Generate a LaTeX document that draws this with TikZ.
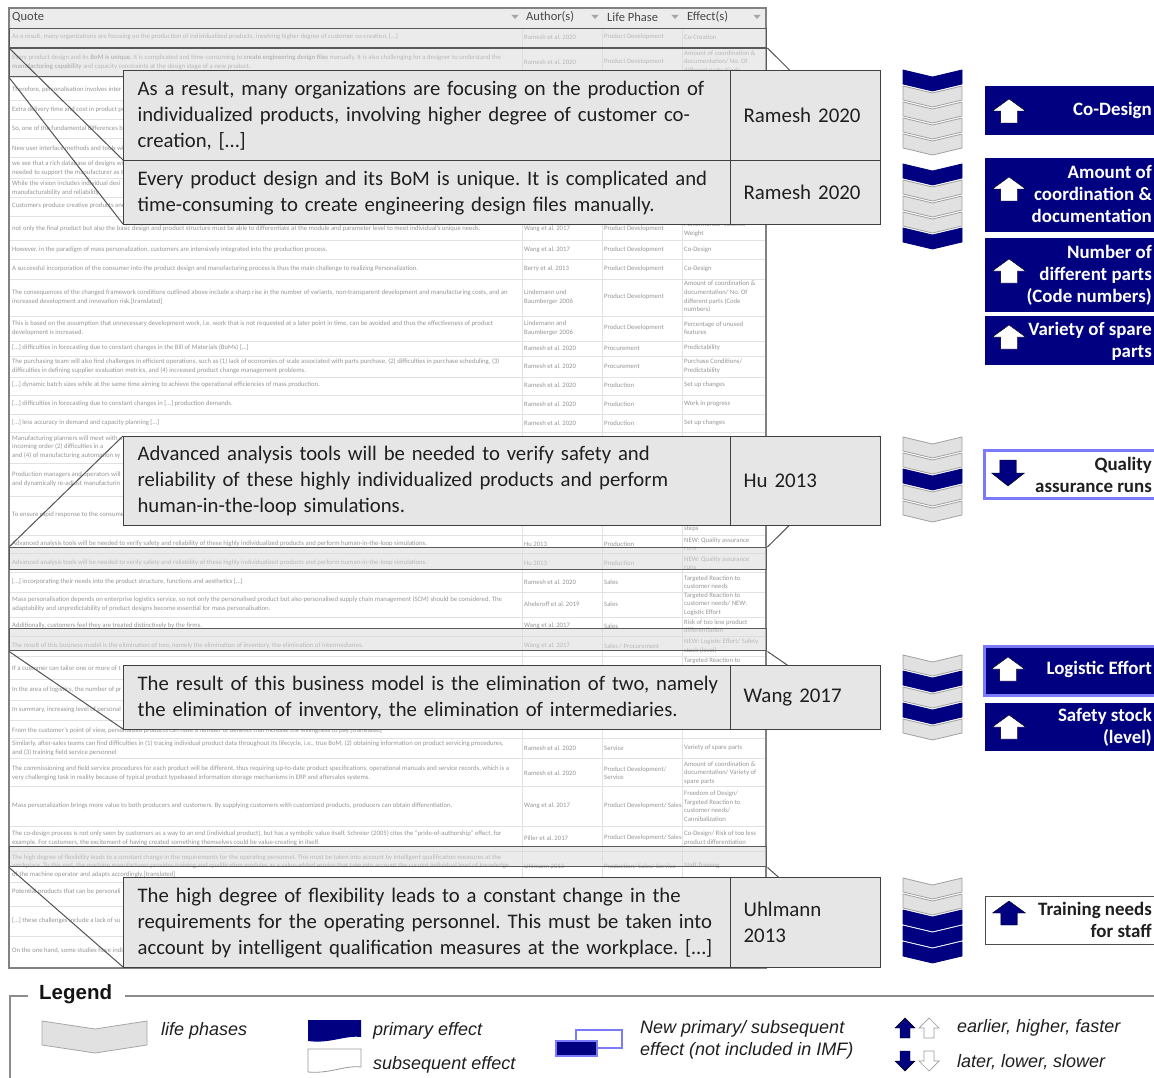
\documentclass[tikz,border=0pt]{standalone}
\usepackage{fontspec}
\setmainfont{Carlito}
\newfontfamily\arialf{Liberation Sans}
\frenchspacing
\definecolor{navy}{RGB}{0,0,128}
\definecolor{lblue}{RGB}{122,122,250}
\definecolor{cofill}{RGB}{230,230,230}
\definecolor{coline}{RGB}{64,64,64}
\definecolor{chgray}{RGB}{225,225,225}
\definecolor{chline}{RGB}{160,160,160}
\definecolor{ttext}{RGB}{150,150,150}
\definecolor{tline}{RGB}{226,226,226}
\definecolor{hdrfill}{RGB}{236,236,236}
\definecolor{tframe}{RGB}{130,130,130}
\definecolor{bandline}{RGB}{90,90,90}

% one table row: name, y, quote, author(s), life phase, effect(s)
\newcommand\trow[6]{%
  \node[tcell] (q#1) at (12,#2) {#3};
  \node[tcell] (a#1) at (524,#2) {#4};
  \node[tcell] (p#1) at (604,#2) {#5};
  \node[tcell] (f#1) at (684,#2) {#6};}
% one chevron: x, top y, style
\newcommand\chev[3]{\draw[#3] (#1,#2) -- ++(29.5,7) -- ++(29.5,-7) -- ++(0,14) -- ++(-29.5,7) -- ++(-29.5,-7) -- cycle;}
% stack of five life-phase chevrons
\newcommand\chevstack[6]{%
  \chev{903}{#1}{#2}\chev{903}{#1+16}{#3}\chev{903}{#1+32}{#4}\chev{903}{#1+48}{#5}\chev{903}{#1+64}{#6}}
% block arrow: style, centre x, tip y, half head width, height (negative = pointing down)
\newcommand\uparr[5]{\draw[#1] (#2,#3) -- ++(#4,0.5*#5) -- ++(-0.5*#4,0) -- ++(0,0.5*#5) -- ++(-#4,0) -- ++(0,-0.5*#5) -- ++(-0.5*#4,0) -- cycle;}

\begin{document}
\begin{tikzpicture}[x=1pt,y=-1pt,
  tcell/.style={anchor=west,inner sep=0pt,align=left,font=\fontsize{6.7}{8.6}\selectfont,text=ttext},
  hdr/.style={anchor=west,inner sep=0pt,font=\fontsize{12.5}{14}\selectfont,text=black!72},
  band/.style={draw=bandline,line width=1.4pt,fill=black!15,fill opacity=0.5,draw opacity=1,anchor=north west,minimum width=757pt,inner sep=0pt},
  zoomline/.style={draw=black!68,line width=1pt},
  callq/.style={draw=coline,line width=1.2pt,fill=cofill,anchor=north west,text width=600pt,inner xsep=14pt,align=left,font=\fontsize{20.7}{26}\selectfont,text=black!88},
  calla/.style={draw=coline,line width=1.2pt,fill=cofill,anchor=north west,minimum width=150pt,text width=124pt,inner xsep=13pt,align=left,font=\fontsize{20.9}{26}\selectfont,text=black!88},
  grayph/.style={fill=chgray,draw=chline,line width=0.8pt},
  navyph/.style={fill=navy,draw=navy,line width=0.8pt},
  effbox/.style={anchor=north west,minimum width=171pt,inner sep=0pt},
  effn/.style={effbox,fill=navy,draw=navy},
  effnew/.style={effbox,fill=navy,draw=lblue,line width=3pt},
  effw/.style={effbox,fill=white,draw=lblue,line width=3pt},
  effg/.style={effbox,fill=white,draw=black!70,line width=1pt},
  efftxt/.style={anchor=east,inner sep=0pt,align=right,font=\bfseries\fontsize{18.9}{22}\selectfont},
  legtxt/.style={anchor=west,inner sep=0pt,align=left,font=\arialf\itshape\fontsize{18}{22}\selectfont,text=black!88},
  legline/.style={draw=black!45,line width=1.3pt}]

\useasboundingbox[fill=white] (0,0) rectangle (1154,1078);

% ---------------- spreadsheet of quotes ----------------
\fill[hdrfill] (9,8) rectangle (766,28);
\foreach \yy in {47,77,100,119,138,157,178,197,216,240,259,279,316,341,356,377,395,414,432,463,496,535,553,572,592,617,636,656,679,700,720,738,758,786,826,851,882,906,936}
  \draw[tline] (9,\yy) -- (766,\yy);
\foreach \xx in {522,602,682}
  \draw[tline] (\xx,28) -- (\xx,968);

\node[hdr] (hq) at (12,17) {Quote};
\node[hdr] (ha) at (526,17) {Author(s)};
\node[hdr] (hp) at (607,17) {Life Phase};
\node[hdr] (hf) at (687,17) {Effect(s)};
\foreach \xx in {515,595,675,757}
  \fill[black!35] (\xx-3.5,15) -- (\xx+3.5,15) -- (\xx,19) -- cycle;

\trow{r1}{37}{As a result, many organizations are focusing on the production of individualized products, involving higher degree of customer co-creation, […]}{Ramesh et al. 2020}{Product Development}{Co-Creation}
\trow{r2}{62}{Every product design and its \textbf{BoM is unique}. It is complicated and time-consuming to \textbf{create engineering design files} manually. It is also challenging for a designer to understand the\\\textbf{manufacturing capability} and capacity constraints at the design stage of a new product.}{Ramesh et al. 2020}{Product Development}{Amount of coordination \&\\documentation/ No. Of\\different parts (Code}
\trow{r3}{90}{Therefore, personalisation involves inter}{}{}{}
\trow{r4}{110}{Extra delivery time and cost in product pe}{}{}{}
\trow{r5}{129}{So, one of the fundamental differences be}{}{}{}
\trow{r6}{148}{New user interface methods and tools wi}{}{}{}
\trow{r7}{168}{we see that a rich database of designs wi\\needed to support the manufacturer as th}{}{}{}
\trow{r8}{188}{While the vision includes individual desi\\manufacturability and reliability.}{}{}{}
\trow{r9}{206}{Customers produce creative products and}{}{}{}
\trow{r10}{229}{not only the final product but also the basic design and product structure must be able to differentiate at the module and parameter level to meet individual's unique needs.}{Wang et al. 2017}{Product Development}{Performance/ Volume/\\Weight}
\trow{r11}{250}{However, in the paradigm of mass personalization, customers are intensively integrated into the production process.}{Wang et al. 2017}{Product Development}{Co-Design}
\trow{r12}{269}{A successful incorporation of the consumer into the product design and manufacturing process is thus the main challenge to realizing Personalization.}{Berry et al. 2013}{Product Development}{Co-Design}
\trow{r13}{297}{The consequences of the changed framework conditions outlined above include a sharp rise in the number of variants, non-transparent development and manufacturing costs, and an\\increased development and innovation risk.[translated]}{Lindemann und\\Baumberger 2006}{Product Development}{Amount of coordination \&\\documentation/ No. Of\\different parts (Code\\numbers)}
\trow{r14}{328}{This is based on the assumption that unnecessary development work, i.e. work that is not requested at a later point in time, can be avoided and thus the effectiveness of product\\development is increased.}{Lindemann and\\Baumberger 2006}{Product Development}{Percentage of unused\\features}
\trow{r15}{348}{[…] difficulties in forecasting due to constant changes in the Bill of Materials (BoMs) […]}{Ramesh et al. 2020}{Procurement}{Predictability}
\trow{r16}{366}{The purchasing team will also find challenges in efficient operations, such as (1) lack of economies of scale associated with parts purchase, (2) difficulties in purchase scheduling, (3)\\difficulties in defining supplier evaluation metrics, and (4) increased product change management problems.}{Ramesh et al. 2020}{Procurement}{Purchase Conditions/\\Predictability}
\trow{r17}{385}{[…] dynamic batch sizes while at the same time aiming to achieve the operational efficiencies of mass production.}{Ramesh et al. 2020}{Production}{Set up changes}
\trow{r18}{404}{[…] difficulties in forecasting due to constant changes in […] production demands.}{Ramesh et al. 2020}{Production}{Work in progress}
\trow{r19}{423}{[…] less accuracy in demand and capacity planning […]}{Ramesh et al. 2020}{Production}{Set up changes}
\trow{r20}{447}{Manufacturing planners will meet with a\\incoming order (2) difficulties in a\\and (4) of manufacturing automation sy}{}{}{}
\trow{r21}{479}{Production managers and operators will\\and dynamically re-adjust manufacturin}{}{}{}
\trow{r22}{515}{To ensure rapid response to the consume}{}{}{}
\node[tcell] (f22) at (684,529) {steps};
\trow{r23}{544}{Advanced analysis tools will be needed to verify safety and reliability of these highly individualized products and perform human-in-the-loop simulations.}{Hu 2013}{Production}{NEW: Quality assurance\\runs}
\trow{r24}{563}{Advanced analysis tools will be needed to verify safety and reliability of these highly individualized products and perform human-in-the-loop simulations.}{Hu 2013}{Production}{NEW: Quality assurance\\runs}
\trow{r25}{582}{[…] incorporating their needs into the product structure, functions and aesthetics […]}{Ramesh et al. 2020}{Sales}{Targeted Reaction to\\customer needs}
\trow{r26}{604}{Mass personalisation depends on enterprise logistics service, so not only the personalised product but also personalised supply chain management (SCM) should be considered. The\\adaptability and unpredictability of product designs become essential for mass personalisation.}{Aheleroff et al. 2019}{Sales}{Targeted Reaction to\\customer needs/ NEW:\\Logistic Effort}
\trow{r27}{626}{Additionally, customers feel they are treated distinctively by the firms.}{Wang et al. 2017}{Sales}{Risk of too less product\\differentiation}
\trow{r28}{646}{The result of this business model is the elimination of two, namely the elimination of inventory, the elimination of intermediaries.}{Wang et al. 2017}{Sales / Procurement}{NEW: Logistic Effort/ Safety\\stock (level)}
\trow{r29}{668}{If a customer can tailor one or more of t}{}{}{}
\node[tcell] (f29) at (684,661) {Targeted Reaction to};
\trow{r30}{690}{In the area of logistics, the number of pr}{}{}{}
\trow{r31}{710}{In summary, increasing level of personal}{}{}{}
\trow{r32}{731}{From the customer's point of view, personalized products can have a number of benefits that increase the willingness to pay [translated]}{}{}{}
\trow{r33}{748}{Similarly, after-sales teams can find difficulties in (1) tracing individual product data throughout its lifecycle, i.e., true BoM, (2) obtaining information on product servicing procedures,\\and (3) training field service personnel}{Ramesh et al. 2020}{Service}{Variety of spare parts}
\trow{r34}{773}{The commissioning and field service procedures for each product will be different, thus requiring up-to-date product specifications, operational manuals and service records, which is a\\very challenging task in reality because of typical product typebased information storage mechanisms in ERP and aftersales systems.}{Ramesh et al. 2020}{Product Development/\\Service}{Amount of coordination \&\\documentation/ Variety of\\spare parts}
\trow{r35}{806}{Mass personalization brings more value to both producers and customers. By supplying customers with customized products, producers can obtain differentiation.}{Wang et al. 2017}{Product Development/ Sales}{Freedom of Design/\\Targeted Reaction to\\customer needs/\\Cannibalization}
\trow{r36}{838}{The co-design process is not only seen by customers as a way to an end (individual product), but has a symbolic value itself. Schreier (2005) cites the "pride-of-authorship" effect, for\\example. For customers, the excitement of having created something themselves could be value-creating in itself.}{Piller et al. 2017}{Product Development/ Sales}{Co-Design/ Risk of too less\\product differentiation}
\trow{r37}{866}{The high degree of flexibility leads to a constant change in the requirements for the operating personnel. This must be taken into account by intelligent qualification measures at the\\workplace. To this end, the machine manufacturer provides training and qualification modules as a value-added service that take into account the current individual level of knowledge\\of the machine operator and adapts accordingly.[translated]}{Uhlmann 2013}{Production/ Sales/ Service}{Staff Training}
\trow{r38}{892}{Potential products that can be personali}{}{}{}
\trow{r39}{921}{[…] these challenges include a lack of su}{}{}{}
\trow{r40}{951}{On the one hand, some studies have indi}{}{}{}

\draw[tframe,line width=1.5pt] (9,8) rectangle (766,968);

% highlighted rows
\node[band,minimum height=19pt] (bCo) at (9,28) {};
\node[band,minimum height=28pt] (bBoM) at (9,48) {};
\node[band,minimum height=22pt] (bHu) at (9,547) {};
\node[band,minimum height=22pt] (bWang) at (9,628) {};
\node[band,minimum height=20pt] (bUhl) at (9,846) {};

% corners of the enlarged quotes
\coordinate (c1nw) at (123,70);
\coordinate (c2nw) at (123,160);
\coordinate (c2sw) at (123,224);
\coordinate (c2ne) at (880,160);
\coordinate (c2se) at (880,224);
\coordinate (c3nw) at (123,436);
\coordinate (c3ne) at (880,436);
\coordinate (c4nw) at (123,665);
\coordinate (c4sw) at (123,729);
\coordinate (c4se) at (880,729);
\coordinate (c5nw) at (123,877);
\coordinate (c5sw) at (123,967);
\coordinate (c5se) at (880,967);

% zoom lines from rows to enlarged quotes
\draw[zoomline] (bBoM.north west) -- (c2nw);
\draw[zoomline] (bBoM.south west) -- (c2sw);
\draw[zoomline] (bBoM.north east) -- (c2ne);
\draw[zoomline] (bBoM.south east) -- (c2se);
\draw[zoomline] (bHu.north west) -- (c3nw);
\draw[zoomline] (bHu.north east) -- (c3ne);
\draw[zoomline] (bWang.south west) -- (c4sw);
\draw[zoomline] (bWang.south east) -- (c4se);
\draw[zoomline] (bUhl.south west) -- (c5sw);
\draw[zoomline] (bUhl.south east) -- (c5se);

% enlarged quotes (quote cell, then author cell on top of its right end)
\node[callq,minimum height=90pt] (c1q) at (c1nw) {As a result, many organizations are focusing on the production of\\individualized products, involving higher degree of customer co-\\creation, […]};
\node[calla,minimum height=90pt] (c1a) at (730,70) {Ramesh 2020};
\node[callq,minimum height=64pt] (c2q) at (c2nw) {Every product design and its BoM is unique. It is complicated and\\time-consuming to create engineering design files manually.};
\node[calla,minimum height=64pt] (c2a) at (730,160) {Ramesh 2020};
\node[callq,minimum height=89pt] (c3q) at (c3nw) {Advanced analysis tools will be needed to verify safety and\\reliability of these highly individualized products and perform\\human-in-the-loop simulations.};
\node[calla,minimum height=89pt] (c3a) at (730,436) {Hu 2013};
\node[callq,minimum height=64pt] (c4q) at (c4nw) {The result of this business model is the elimination of two, namely\\the elimination of inventory, the elimination of intermediaries.};
\node[calla,minimum height=64pt] (c4a) at (730,665) {Wang 2017};
\node[callq,minimum height=90pt] (c5q) at (c5nw) {The high degree of flexibility leads to a constant change in the\\requirements for the operating personnel. This must be taken into\\account by intelligent qualification measures at the workplace. […]};
\node[calla,minimum height=90pt] (c5a) at (730,877) {Uhlmann\\2013};

% ---------------- life-phase chevrons ----------------
\chevstack{70}{navyph}{grayph}{grayph}{grayph}{grayph}
\chevstack{164}{navyph}{grayph}{grayph}{grayph}{navyph}
\chevstack{437}{grayph}{grayph}{navyph}{grayph}{grayph}
\chevstack{655}{grayph}{navyph}{grayph}{navyph}{grayph}
\chevstack{878}{grayph}{grayph}{navyph}{navyph}{navyph}

% ---------------- effects ----------------
\node[effn,minimum height=48pt] (e1) at (985,86) {};
\uparr{fill=white}{1009}{99}{16.5}{24}
\node[efftxt,text=white] (e1t) at (1152,110) {Co-Design};

\node[effn,minimum height=73pt] (e2) at (985,158) {};
\uparr{fill=white}{1009}{177}{16.5}{24}
\node[efftxt,text=white] (e2t) at (1152,194.5) {Amount of\\coordination \&\\documentation};

\node[effn,minimum height=73pt] (e3) at (985,238) {};
\uparr{fill=white}{1009}{259}{16.5}{24}
\node[efftxt,text=white] (e3t) at (1152,275) {Number of\\different parts\\(Code numbers)};

\node[effn,minimum height=48pt] (e4) at (985,316) {};
\uparr{fill=white}{1009}{325}{16.5}{24}
\node[efftxt,text=white] (e4t) at (1152,341) {Variety of spare\\parts};

\node[effw,minimum height=48pt] (e5) at (983,449) {};
\uparr{fill=navy}{1008}{486}{16.5}{-26}
\node[efftxt,text=black!88] (e5t) at (1152,474.5) {Quality\\assurance runs};

\node[effnew,minimum height=49pt] (e6) at (983,645) {};
\uparr{fill=white}{1008}{657}{16.5}{24}
\node[efftxt,text=white] (e6t) at (1152,669.5) {Logistic Effort};

\node[effn,minimum height=47pt] (e7) at (985,703) {};
\uparr{fill=white}{1009}{715}{16.5}{24}
\node[efftxt,text=white] (e7t) at (1152,727) {Safety stock\\(level)};

\node[effg,minimum height=48pt] (e8) at (985,896) {};
\uparr{fill=navy}{1009}{901}{16.5}{24}
\node[efftxt,text=black!88] (e8t) at (1152,920) {Training needs\\for staff};

% ---------------- legend ----------------
\node[anchor=west,inner sep=0pt,font=\arialf\bfseries\fontsize{20.5}{24}\selectfont,text=black!92] (lgt) at (39,994) {Legend};
\draw[legline] (28,996) -- (10,996) -- (10,1080);
\draw[legline] (125,996) -- (1156,996);

\draw[grayph,draw=black!35] (42,1021) -- (95,1029) -- (147,1021) -- (147,1045) -- (95,1053) -- (42,1045) -- cycle;
\node[legtxt] (l1) at (161,1031) {life phases};

\fill[navy] (308,1020) -- (361,1020) -- (361,1037) .. controls (345,1035) and (330,1044) .. (308,1041) -- cycle;
\node[legtxt] (l2) at (373,1031) {primary effect};
\draw[black!40,fill=white,line width=0.8pt] (308,1049) -- (361,1049) -- (361,1067) .. controls (345,1065) and (330,1074) .. (308,1072) -- cycle;
\node[legtxt] (l3) at (373,1065) {subsequent effect};

\draw[lblue,line width=2pt,fill=white] (576,1030) rectangle (622,1048);
\draw[lblue,line width=2pt,fill=navy] (556,1041) rectangle (597,1056);
\node[legtxt] (l4) at (640,1040) {New primary/ subsequent\\effect (not included in IMF)};

\uparr{fill=navy}{905}{1018}{10}{20}
\uparr{draw=black!40,fill=white,line width=0.7pt}{929}{1018}{10}{20}
\node[legtxt] (l5) at (957,1028) {earlier, higher, faster};
\uparr{fill=navy}{905}{1071}{10}{-20}
\uparr{draw=black!40,fill=white,line width=0.7pt}{929}{1071}{10}{-20}
\node[legtxt] (l6) at (957,1062) {later, lower, slower};
\end{tikzpicture}
\end{document}
